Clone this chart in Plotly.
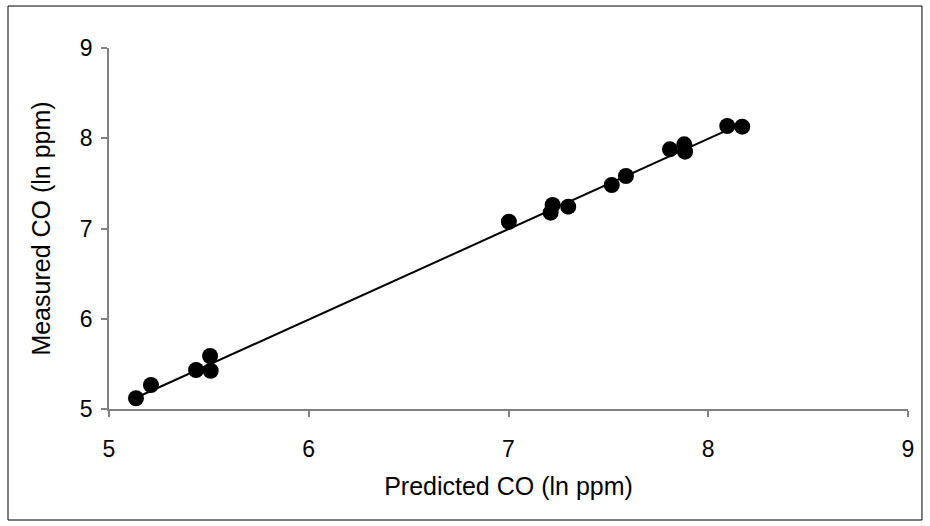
import plotly.graph_objects as go

predicted = [5.135, 5.21, 5.436, 5.506, 5.509, 7.002, 7.221, 7.211, 7.299,
             7.517, 7.588, 7.808, 7.88, 7.884, 8.095, 8.17]
measured = [5.119, 5.266, 5.432, 5.587, 5.424, 7.075, 7.26, 7.175, 7.242,
            7.482, 7.582, 7.877, 7.933, 7.851, 8.136, 8.128]
fit_x = [5.135, 8.17]
fit_y = [5.125, 8.165]
ticks = [5, 6, 7, 8, 9]

FONT = "Liberation Sans, Arial"

fig = go.Figure()
fig.add_trace(go.Scatter(x=fit_x, y=fit_y, mode="lines",
                         line=dict(color="black", width=2), showlegend=False,
                         hoverinfo="skip"))
fig.add_trace(go.Scatter(x=predicted, y=measured, mode="markers",
                         marker=dict(color="black", size=16, line=dict(width=0)),
                         showlegend=False))

axis_common = dict(range=[5, 9], tickvals=ticks, showgrid=False, zeroline=False,
                   showline=True, linecolor="#808080", linewidth=1.5,
                   ticks="outside", ticklen=6, tickcolor="#808080", tickwidth=1.5,
                   tickfont=dict(family=FONT, size=23, color="black"))

fig.update_layout(
    width=930, height=526,
    margin=dict(l=109, r=22, t=48, b=117),
    paper_bgcolor="white", plot_bgcolor="white",
    xaxis=dict(**axis_common, ticklabelstandoff=13,
               title=dict(text="Predicted CO (ln ppm)", standoff=16,
                          font=dict(family=FONT, size=25, color="black"))),
    yaxis=dict(**axis_common, ticklabelstandoff=4,
               title=dict(text="Measured CO (ln ppm)", standoff=22,
                          font=dict(family=FONT, size=25, color="black"))),
    shapes=[dict(type="rect", xref="paper", yref="paper",
                 x0=-0.1264, x1=1.0175, y0=-0.3075, y1=1.1163,
                 line=dict(color="black", width=1), layer="below")],
)

fig.write_html("out.html", config={"displayModeBar": False},
               post_script="document.body.style.margin='0';document.body.style.padding='0';")
